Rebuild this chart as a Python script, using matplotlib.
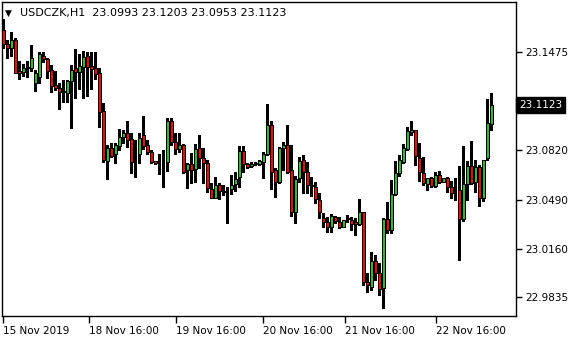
import numpy as np
import matplotlib
matplotlib.use("Agg")
import matplotlib.pyplot as plt

# USDCZK H1 candles (open, high, low, close)
opens = [23.1624, 23.1531, 23.1502, 23.1557, 23.1350, 23.1345, 23.1368, 23.1368, 23.1268, 23.1312,
         23.1452, 23.1430, 23.1357, 23.1256, 23.1234, 23.1216, 23.1205, 23.1283, 23.1372, 23.1341,
         23.1379, 23.1452, 23.1385, 23.1368, 23.1335, 23.1082, 23.0750, 23.0833, 23.0793, 23.0850,
         23.0906, 23.0933, 23.0893, 23.0788, 23.0793, 23.0922, 23.0855, 23.0806, 23.0748, 23.0743,
         23.0743, 23.0739, 23.1016, 23.0877, 23.0828, 23.0855, 23.0688, 23.0728, 23.0696, 23.0833,
         23.0766, 23.0733, 23.0559, 23.0502, 23.0587, 23.0549, 23.0565, 23.0559, 23.0592, 23.0639,
         23.0815, 23.0728, 23.0715, 23.0726, 23.0726, 23.0739, 23.0793, 23.0989, 23.0688, 23.0609,
         23.0833, 23.0855, 23.0688, 23.0409, 23.0632, 23.0755, 23.0672, 23.0587, 23.0576, 23.0487,
         23.0365, 23.0342, 23.0304, 23.0371, 23.0342, 23.0308, 23.0358, 23.0353, 23.0342, 23.0324,
         23.0405, 22.9940, 22.9907, 23.0079, 22.9997, 22.9896, 23.0358, 23.0286, 23.0525, 23.0670,
         23.0743, 23.0828, 23.0944, 23.0955, 23.0766, 23.0666, 23.0592, 23.0632, 23.0583, 23.0654,
         23.0609, 23.0632, 23.0576, 23.0549, 23.0554, 23.0360, 23.0592, 23.0715, 23.0609, 23.0710,
         23.0502, 23.0766, 23.0993]
highs = [23.1698, 23.1557, 23.1609, 23.1569, 23.1417, 23.1395, 23.1417, 23.1524, 23.1357, 23.1479,
         23.1475, 23.1435, 23.1390, 23.1350, 23.1268, 23.1290, 23.1290, 23.1390, 23.1497, 23.1462,
         23.1484, 23.1479, 23.1475, 23.1475, 23.1368, 23.1138, 23.0855, 23.0870, 23.0870, 23.0960,
         23.0955, 23.1016, 23.0933, 23.0888, 23.0933, 23.1049, 23.0888, 23.0822, 23.0748, 23.0795,
         23.0822, 23.1034, 23.1034, 23.0933, 23.0933, 23.0862, 23.0737, 23.0799, 23.0860, 23.0922,
         23.0833, 23.0755, 23.0599, 23.0643, 23.0599, 23.0587, 23.0569, 23.0654, 23.0676, 23.0848,
         23.0848, 23.0737, 23.0739, 23.0743, 23.0755, 23.0810, 23.1129, 23.1016, 23.0699, 23.0844,
         23.0877, 23.0989, 23.0855, 23.0650, 23.0777, 23.0788, 23.0743, 23.0639, 23.0609, 23.0532,
         23.0402, 23.0375, 23.0391, 23.0380, 23.0375, 23.0353, 23.0387, 23.0375, 23.0365, 23.0494,
         23.0405, 22.9997, 23.0141, 23.0119, 23.0064, 23.0365, 23.0476, 23.0621, 23.0750, 23.0788,
         23.0862, 23.0977, 23.1016, 23.0955, 23.0868, 23.0775, 23.0636, 23.0643, 23.0672, 23.0681,
         23.0636, 23.0643, 23.0614, 23.0634, 23.0715, 23.0848, 23.0748, 23.0882, 23.0755, 23.0721,
         23.0755, 23.1163, 23.1203]
lows = [23.1504, 23.1435, 23.1452, 23.1335, 23.1295, 23.1317, 23.1312, 23.1350, 23.1216, 23.1268,
        23.1412, 23.1301, 23.1212, 23.1223, 23.1096, 23.1141, 23.1145, 23.0971, 23.1167, 23.1230,
        23.1171, 23.1185, 23.1230, 23.1297, 23.0977, 23.0739, 23.0626, 23.0777, 23.0737, 23.0822,
        23.0870, 23.0844, 23.0666, 23.0643, 23.0737, 23.0828, 23.0793, 23.0737, 23.0728, 23.0661,
        23.0576, 23.0683, 23.0855, 23.0793, 23.0810, 23.0666, 23.0569, 23.0599, 23.0609, 23.0699,
        23.0599, 23.0539, 23.0498, 23.0498, 23.0492, 23.0520, 23.0335, 23.0525, 23.0547, 23.0576,
        23.0672, 23.0703, 23.0710, 23.0721, 23.0721, 23.0636, 23.0788, 23.0561, 23.0509, 23.0599,
        23.0688, 23.0666, 23.0382, 23.0335, 23.0605, 23.0534, 23.0532, 23.0514, 23.0469, 23.0365,
        23.0308, 23.0275, 23.0275, 23.0331, 23.0302, 23.0308, 23.0342, 23.0286, 23.0253, 23.0320,
        22.9918, 22.9873, 22.9885, 22.9952, 22.9851, 22.9767, 23.0264, 23.0264, 23.0520, 23.0648,
        23.0733, 23.0822, 23.0922, 23.0721, 23.0614, 23.0587, 23.0554, 23.0576, 23.0576, 23.0599,
        23.0605, 23.0541, 23.0500, 23.0487, 23.0086, 23.0347, 23.0487, 23.0592, 23.0543, 23.0449,
        23.0480, 23.0755, 23.0953]
closes = [23.1531, 23.1502, 23.1557, 23.1339, 23.1339, 23.1368, 23.1379, 23.1439, 23.1335, 23.1462,
          23.1428, 23.1352, 23.1252, 23.1234, 23.1212, 23.1210, 23.1283, 23.1357, 23.1341, 23.1385,
          23.1446, 23.1379, 23.1361, 23.1328, 23.1078, 23.0755, 23.0833, 23.0783, 23.0855, 23.0906,
          23.0933, 23.0888, 23.0743, 23.0788, 23.0900, 23.0850, 23.0806, 23.0743, 23.0737, 23.0743,
          23.0743, 23.1016, 23.0873, 23.0826, 23.0855, 23.0672, 23.0728, 23.0688, 23.0826, 23.0766,
          23.0733, 23.0565, 23.0502, 23.0587, 23.0549, 23.0541, 23.0565, 23.0587, 23.0628, 23.0815,
          23.0726, 23.0710, 23.0728, 23.0733, 23.0748, 23.0793, 23.0989, 23.0672, 23.0609, 23.0833,
          23.0855, 23.0672, 23.0409, 23.0628, 23.0748, 23.0672, 23.0587, 23.0583, 23.0492, 23.0405,
          23.0342, 23.0304, 23.0380, 23.0349, 23.0308, 23.0353, 23.0365, 23.0324, 23.0324, 23.0409,
          22.9940, 22.9918, 23.0079, 23.0001, 22.9890, 23.0358, 23.0286, 23.0527, 23.0666, 23.0755,
          23.0833, 23.0949, 23.0955, 23.0781, 23.0676, 23.0599, 23.0632, 23.0583, 23.0654, 23.0609,
          23.0632, 23.0576, 23.0532, 23.0549, 23.0358, 23.0592, 23.0715, 23.0603, 23.0710, 23.0502,
          23.0755, 23.1000, 23.1123]

price_ticks = [23.1475, 23.1150, 23.0820, 23.0490, 23.0160, 22.9835]
price_labels = ["23.1475", "", "23.0820", "23.0490", "23.0160", "22.9835"]
time_labels = ["15 Nov 2019", "18 Nov 16:00", "19 Nov 16:00", "20 Nov 16:00",
               "21 Nov 16:00", "22 Nov 16:00"]
time_pos = [0, 21.5, 43.2, 64.9, 85.5, 108.2]
title = "USDCZK,H1  23.0993 23.1203 23.0953 23.1123"

o = np.array(opens)
h = np.array(highs)
l = np.array(lows)
c = np.array(closes)
x = np.arange(len(o))

fig = plt.figure(figsize=(5.8, 3.4), dpi=100)
ax = fig.add_axes([2 / 580, 24 / 340, 514 / 580, 314 / 340])

up = c > o
down = c < o
flat = c == o

body_lo = np.minimum(o, c)
body_h = np.abs(c - o)

ax.vlines(x, l, h, color="black", linewidth=1, zorder=2, antialiased=False)
ax.bar(x[up], body_h[up], bottom=body_lo[up], width=0.85, color="#3cb043",
       edgecolor="black", linewidth=0.72, antialiased=False, zorder=3)
ax.bar(x[down], body_h[down], bottom=body_lo[down], width=0.85, color="#e01010",
       edgecolor="black", linewidth=0.72, antialiased=False, zorder=3)
ax.hlines(o[flat], x[flat] - 0.4, x[flat] + 0.4, color="black", linewidth=1.2,
          antialiased=False, zorder=3)

ax.set_xlim(-0.33, 128.2)
ax.set_ylim(22.9711, 23.1812)

for s in ax.spines.values():
    s.set_color("black")
    s.set_linewidth(1)

ax.yaxis.tick_right()
ax.set_yticks(price_ticks)
ax.set_yticklabels(price_labels)
ax.set_xticks(time_pos)
ax.set_xticklabels(time_labels, ha="left")
ax.tick_params(axis="y", direction="out", length=4, width=1, pad=3, labelsize=7.5, colors="black")
ax.tick_params(axis="x", direction="out", length=5, width=1, pad=2, labelsize=7.5, colors="black")

# current price label on the right scale
ax.annotate(f"{closes[-1]:.4f}", xy=(1, closes[-1]), xycoords=("axes fraction", "data"),
            xytext=(2, 0), textcoords="offset points", va="center", ha="left",
            fontsize=7.5, color="white", zorder=10, annotation_clip=False,
            bbox=dict(boxstyle="square,pad=0.3", fc="black", ec="black"))

fig.text(5 / 580, 1 - 13 / 340, "\u25bc", fontsize=6.5, va="center", ha="left", color="black")
fig.text(20 / 580, 1 - 13 / 340, title, fontsize=8, va="center", ha="left", color="black")

fig.savefig("out.png", dpi=100, facecolor="white")
